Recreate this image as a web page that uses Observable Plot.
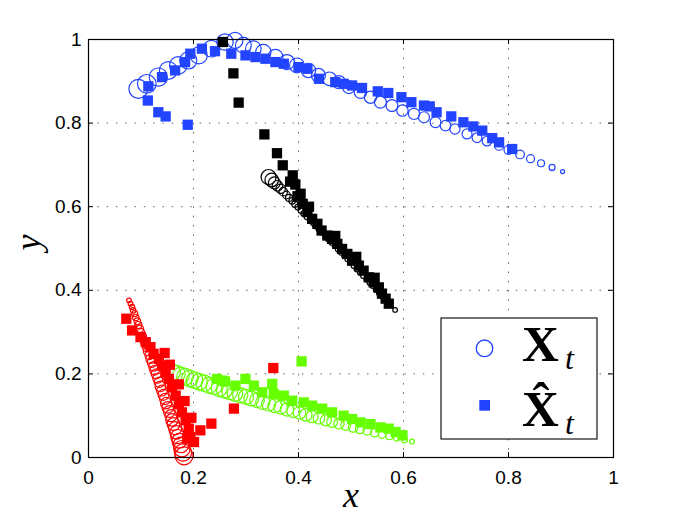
<!DOCTYPE html>
<html><head><meta charset="utf-8">
<script src="https://cdn.jsdelivr.net/npm/d3@7"></script>
<script src="https://cdn.jsdelivr.net/npm/@observablehq/plot@0.6"></script>
<style>
body{margin:0;background:#fff;}
#wrap{position:relative;width:677px;height:517px;}
#wrap svg.ov{position:absolute;left:0;top:0;}
</style></head><body>
<div id="wrap"></div>
<script>
// ---- data: true states X_t (circles, w = marker weight) ----
const blueCX = [0.095,0.111,0.133,0.152,0.171,0.190,0.210,0.234,0.260,0.279,0.295,0.314,0.333,0.356,0.378,0.397,0.419,0.438,0.459,0.477,0.496,0.518,0.537,0.556,0.578,0.598,0.620,0.639,0.661,0.680,0.698,0.721,0.740,0.759,0.782,0.800,0.822,0.842,0.862,0.883,0.903];
const blueCY = [0.882,0.894,0.910,0.926,0.938,0.950,0.962,0.978,0.994,0.998,0.986,0.978,0.970,0.958,0.946,0.938,0.926,0.914,0.906,0.898,0.886,0.874,0.862,0.850,0.842,0.830,0.822,0.814,0.802,0.794,0.786,0.774,0.765,0.757,0.746,0.736,0.725,0.715,0.704,0.694,0.684];
const blueCW = [0.95,0.93,0.91,0.89,0.88,0.86,0.85,0.83,0.82,0.80,0.79,0.78,0.77,0.76,0.75,0.74,0.72,0.70,0.68,0.66,0.64,0.62,0.61,0.60,0.59,0.57,0.56,0.55,0.54,0.53,0.51,0.50,0.49,0.48,0.46,0.45,0.43,0.40,0.35,0.30,0.20];

const blackCX = [0.343,0.349,0.354,0.360,0.366,0.371,0.377,0.382,0.388,0.393,0.399,0.405,0.410,0.416,0.422,0.428,0.433,0.439,0.445,0.451,0.457,0.463,0.469,0.475,0.481,0.487,0.493,0.499,0.505,0.511,0.517,0.523,0.529,0.535,0.541,0.547,0.553,0.559,0.565,0.572,0.584];
const blackCY = [0.671,0.664,0.657,0.650,0.643,0.636,0.628,0.621,0.614,0.606,0.599,0.591,0.584,0.576,0.568,0.561,0.553,0.546,0.538,0.530,0.522,0.514,0.506,0.498,0.490,0.482,0.474,0.466,0.458,0.450,0.442,0.434,0.426,0.418,0.410,0.401,0.393,0.385,0.377,0.368,0.353];
const blackCW = [0.75,0.68,0.60,0.53,0.47,0.42,0.38,0.35,0.33,0.31,0.30,0.29,0.29,0.28,0.28,0.27,0.27,0.27,0.26,0.26,0.26,0.25,0.25,0.25,0.25,0.25,0.24,0.24,0.24,0.24,0.24,0.24,0.23,0.23,0.23,0.23,0.23,0.23,0.23,0.23,0.23];

const redCX = [0.182,0.180,0.178,0.176,0.173,0.170,0.168,0.165,0.162,0.159,0.157,0.154,0.151,0.148,0.146,0.143,0.140,0.137,0.135,0.132,0.129,0.126,0.124,0.121,0.118,0.116,0.113,0.111,0.108,0.105,0.103,0.100,0.098,0.095,0.093,0.090,0.088,0.085,0.083,0.080,0.077];
const redCY = [0.004,0.012,0.021,0.030,0.040,0.050,0.060,0.070,0.080,0.090,0.100,0.110,0.120,0.130,0.140,0.150,0.160,0.170,0.180,0.190,0.200,0.209,0.218,0.227,0.236,0.245,0.254,0.263,0.272,0.281,0.290,0.299,0.308,0.317,0.326,0.335,0.344,0.352,0.360,0.368,0.376];
const redCW = [0.90,0.86,0.82,0.78,0.74,0.71,0.68,0.66,0.64,0.62,0.60,0.59,0.58,0.57,0.56,0.55,0.54,0.53,0.52,0.51,0.50,0.49,0.48,0.47,0.46,0.45,0.44,0.43,0.42,0.41,0.40,0.38,0.37,0.35,0.33,0.32,0.30,0.28,0.26,0.24,0.23];

const greenCX = [0.159,0.168,0.176,0.184,0.193,0.202,0.211,0.220,0.230,0.239,0.249,0.259,0.269,0.279,0.289,0.300,0.310,0.321,0.332,0.343,0.355,0.366,0.378,0.390,0.402,0.414,0.426,0.439,0.452,0.464,0.477,0.490,0.504,0.517,0.531,0.545,0.559,0.573,0.587,0.602,0.616];
const greenCY = [0.204,0.200,0.196,0.193,0.189,0.185,0.181,0.178,0.173,0.170,0.165,0.161,0.157,0.153,0.149,0.145,0.141,0.137,0.132,0.128,0.124,0.120,0.115,0.111,0.107,0.102,0.098,0.094,0.089,0.085,0.081,0.077,0.072,0.068,0.064,0.059,0.055,0.051,0.047,0.042,0.038];
const greenCW = [0.85,0.85,0.84,0.84,0.83,0.83,0.82,0.82,0.81,0.80,0.80,0.79,0.78,0.77,0.76,0.75,0.74,0.73,0.71,0.70,0.69,0.67,0.66,0.65,0.63,0.62,0.60,0.58,0.56,0.54,0.52,0.50,0.48,0.46,0.44,0.41,0.38,0.35,0.32,0.28,0.24];

// ---- data: estimates X̂_t (squares) ----
const blueSX = [0.114,0.113,0.133,0.147,0.189,0.140,0.165,0.184,0.194,0.216,0.241,0.272,0.299,0.318,0.337,0.356,0.372,0.400,0.417,0.439,0.470,0.486,0.502,0.521,0.551,0.571,0.596,0.615,0.639,0.650,0.663,0.691,0.714,0.733,0.750,0.769,0.782,0.807];
const blueSY = [0.888,0.854,0.826,0.816,0.796,0.910,0.926,0.946,0.966,0.978,0.972,0.966,0.962,0.958,0.954,0.946,0.942,0.934,0.930,0.906,0.898,0.894,0.890,0.884,0.876,0.872,0.862,0.850,0.842,0.840,0.826,0.816,0.802,0.792,0.782,0.764,0.754,0.738];

const blackSX = [0.256,0.276,0.286,0.335,0.359,0.370,0.389,0.394,0.404,0.408,0.417,0.426,0.436,0.444,0.455,0.464,0.474,0.483,0.493,0.502,0.515,0.524,0.534,0.543,0.553,0.559,0.566,0.572,0.384,0.398,0.420,0.470,0.510,0.545];
const blackSY = [0.994,0.919,0.849,0.773,0.728,0.699,0.675,0.653,0.631,0.607,0.587,0.571,0.559,0.543,0.531,0.523,0.511,0.499,0.487,0.471,0.459,0.447,0.431,0.419,0.407,0.392,0.380,0.368,0.660,0.625,0.600,0.530,0.480,0.430];

const redSX = [0.072,0.083,0.099,0.109,0.118,0.124,0.134,0.140,0.147,0.153,0.159,0.166,0.172,0.178,0.185,0.191,0.194,0.201,0.188,0.213,0.234,0.277,0.352,0.145,0.155,0.172,0.183,0.196];
const redSY = [0.332,0.304,0.288,0.276,0.264,0.248,0.236,0.220,0.204,0.188,0.168,0.148,0.128,0.108,0.089,0.069,0.049,0.037,0.045,0.065,0.081,0.117,0.214,0.250,0.222,0.175,0.135,0.095];

const greenSX = [0.245,0.255,0.260,0.280,0.299,0.315,0.331,0.350,0.353,0.372,0.388,0.406,0.410,0.426,0.445,0.464,0.486,0.502,0.518,0.537,0.556,0.572,0.585,0.598];
const greenSY = [0.188,0.184,0.182,0.172,0.188,0.172,0.156,0.176,0.152,0.148,0.136,0.230,0.132,0.124,0.117,0.108,0.100,0.092,0.084,0.080,0.072,0.069,0.061,0.053];

const xTicks = [0, 0.2, 0.4, 0.6, 0.8, 1];
const yTicks = [0, 0.2, 0.4, 0.6, 0.8, 1];
const gridTicks = [0.2, 0.4, 0.6, 0.8];

const BLUE = "#2244ff", BLACK = "#000000", RED = "#ff0000", GREEN = "#66ff00";

const circ = (xs, ys, ws) => xs.map((x, i) => ({x, y: ys[i], w: ws[i]}));
const sq = (xs, ys) => xs.map((x, i) => ({x, y: ys[i]}));

const circleMark = (data, color) => Plot.dot(data, {x: "x", y: "y", r: "w", stroke: color, fill: "none", strokeWidth: 1.2});
const squareMark = (data, color) => Plot.dot(data, {x: "x", y: "y", r: 5.8, symbol: "square", fill: color, stroke: "none"});

const serif = "'Liberation Serif', 'Times New Roman', serif";

const chart = Plot.plot({
  width: 677, height: 517,
  marginLeft: 88, marginRight: 64, marginTop: 39, marginBottom: 60,
  style: {fontFamily: "'Liberation Sans', Arial, sans-serif", fontSize: "19px", background: "#fff", overflow: "visible"},
  x: {domain: [0, 1]},
  y: {domain: [0, 1]},
  r: {type: "linear", domain: [0, 1], range: [0, 10]},
  marks: [
    Plot.gridX({ticks: gridTicks, stroke: "#000", strokeOpacity: 0.6, strokeDasharray: "1.5,7.8"}),
    Plot.gridY({ticks: gridTicks, stroke: "#000", strokeOpacity: 0.6, strokeDasharray: "1.5,7.8"}),
    Plot.tickX(xTicks, {x: d => d, insetTop: 413, stroke: "#000"}),
    Plot.tickX(xTicks, {x: d => d, insetBottom: 413, stroke: "#000"}),
    Plot.tickY(yTicks, {y: d => d, insetRight: 520, stroke: "#000"}),
    Plot.tickY(yTicks, {y: d => d, insetLeft: 520, stroke: "#000"}),
    Plot.axisX({ticks: xTicks, tickSize: 0, tickPadding: 13, tickFormat: "~g", label: null, fontSize: 19}),
    Plot.axisY({ticks: yTicks, tickSize: 0, tickPadding: 7, tickFormat: "~g", label: null, fontSize: 19}),
    circleMark(circ(blueCX, blueCY, blueCW), BLUE),
    circleMark(circ(greenCX, greenCY, greenCW), GREEN),
    circleMark(circ(redCX, redCY, redCW), RED),
    circleMark(circ(blackCX, blackCY, blackCW), BLACK),
    squareMark(sq(greenSX, greenSY), GREEN),
    squareMark(sq(redSX, redSY), RED),
    squareMark(sq(blueSX, blueSY), BLUE),
    squareMark(sq(blackSX, blackSY), BLACK),
    Plot.frame({stroke: "#000", strokeWidth: 1.2}),
    Plot.text(["x"], {frameAnchor: "bottom", dy: 38, text: d => d, fontFamily: serif, fontStyle: "italic", fontSize: 36, lineAnchor: "middle"}),
    Plot.text(["y"], {frameAnchor: "left", dx: -60, dy: 2, rotate: -90, text: d => d, fontFamily: serif, fontStyle: "italic", fontSize: 36, lineAnchor: "middle"})
  ]
});

const wrap = document.getElementById("wrap");
wrap.appendChild(chart);

// legend (inside the axes, lower right)
const ov = d3.select(wrap).append("svg").attr("class", "ov").attr("width", 677).attr("height", 517);
ov.append("rect").attr("x", 441).attr("y", 318).attr("width", 156).attr("height", 121)
  .attr("fill", "#fff").attr("stroke", "#000").attr("stroke-width", 1.1);
ov.append("circle").attr("cx", 484.5).attr("cy", 348.3).attr("r", 8.3)
  .attr("fill", "none").attr("stroke", BLUE).attr("stroke-width", 1.3);
ov.append("rect").attr("x", 479.3).attr("y", 400).attr("width", 10.7).attr("height", 10.7).attr("fill", BLUE);
const row = (base, label) => {
  ov.append("text").attr("x", 522).attr("y", base).attr("font-family", serif).attr("font-weight", "bold")
    .attr("font-size", 51).text(label);
  ov.append("text").attr("x", 565).attr("y", base + 8).attr("font-family", serif).attr("font-style", "italic")
    .attr("font-size", 32).text("t");
};
row(361, "X");
row(426, "X\u0302");
</script>
</body></html>
